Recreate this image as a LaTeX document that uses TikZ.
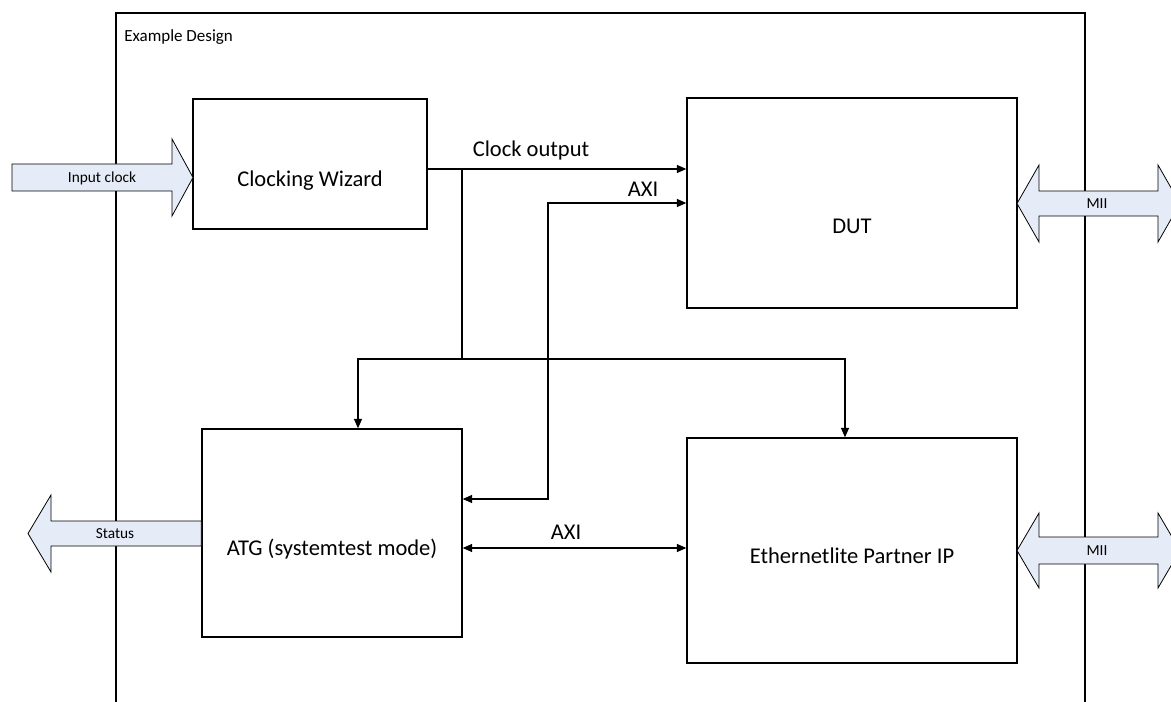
\documentclass[tikz,border=0pt]{standalone}
\usepackage{fontspec}
\setmainfont{Carlito}
\usetikzlibrary{arrows.meta}
\definecolor{blockfill}{HTML}{E6ECF7}
\tikzset{
  box/.style={draw, line width=1.1pt, fill=white, inner sep=0pt},
  lbl/.style={inner sep=0pt, font=\fontsize{16.9pt}{18.5pt}\selectfont},
  small/.style={inner sep=0pt, font=\fontsize{11.5pt}{13pt}\selectfont},
  conn/.style={line width=0.8pt, >={Triangle[length=7pt,width=6pt]}},
  blockarrow/.style={draw, line width=0.6pt, fill=blockfill},
  frameline/.style={line width=0.9pt}
}
\begin{document}
\begin{tikzpicture}[x=0.75pt,y=-0.75pt]
\clip (0,0) rectangle (1171,702);
% frame
\draw[frameline] (116,705) -- (116,13) -- (1085,13) -- (1085,705);
\node[anchor=west, inner sep=0pt, font=\fontsize{12.75pt}{14pt}\selectfont] (ed) at (124,37) {Example Design};

% boxes
\node[box, minimum width=175.5pt, minimum height=97.5pt] (cw) at (310,164) {};
\node[box, minimum width=247.5pt, minimum height=157.5pt] (dut) at (852,203) {};
\node[box, minimum width=195pt, minimum height=156pt] (atg) at (332,533) {};
\node[box, minimum width=247.5pt, minimum height=168.75pt] (eth) at (852,550.5) {};

\node[lbl] (cwt) at (310,181) {Clocking Wizard};
\node[lbl] (dutt) at (852,226) {DUT};
\node[lbl] (atgt) at (332,549) {ATG (systemtest mode)};
\node[lbl] (etht) at (852,556) {Ethernetlite Partner IP};

% coordinates
\coordinate (j1) at (462,169);
\coordinate (j2) at (462,359);
\coordinate (jl) at (358,359);
\coordinate (jr) at (845,359);
\coordinate (a1) at (548,203);
\coordinate (a2) at (548,499);
\coordinate (a3) at (0,548);

% clock
\draw[conn,->] (cw.east |- j1) -- (dut.west |- j1);
\node[lbl] (clkl) at (531,150) {Clock output};
\draw[conn] (j1) -- (j2);
\draw[conn,->] (j2) -| (jl |- atg.north);
\draw[conn,->] (j2) -| (jr |- eth.north);

% AXI
\draw[conn,<->] (dut.west |- a1) -- (a1) -- (a2) -- (atg.east |- a2);
\node[lbl] (axi1) at (643,189) {AXI};
\draw[conn,<->] (atg.east |- a3) -- (eth.west |- a3);
\node[lbl] (axi2) at (566,532) {AXI};

% block arrows
\draw[blockarrow] (12,164) -- (172,164) -- (172,139) -- (193,177.5) -- (172,216) -- (172,191) -- (12,191) -- cycle;
\node[small] (inclk) at (102,178) {Input clock};

\draw[blockarrow] (1017,203.5) -- (1039,165) -- (1039,191) -- (1158,191) -- (1158,165) -- (1180,203.5) -- (1158,242) -- (1158,216) -- (1039,216) -- (1039,242) -- cycle;
\node[small] (mii1) at (1097,204) {MII};

\draw[blockarrow] (1017,550.5) -- (1039,513) -- (1039,537) -- (1158,537) -- (1158,513) -- (1180,550.5) -- (1158,588) -- (1158,564) -- (1039,564) -- (1039,588) -- cycle;
\node[small] (mii2) at (1097,551) {MII};

\draw[blockarrow] (28,533.5) -- (51,495) -- (51,521) -- (atg.west |- {(0,521)}) -- (atg.west |- {(0,546)}) -- (51,546) -- (51,572) -- cycle;
\node[small] (stat) at (115,533.5) {Status};
\end{tikzpicture}
\end{document}
